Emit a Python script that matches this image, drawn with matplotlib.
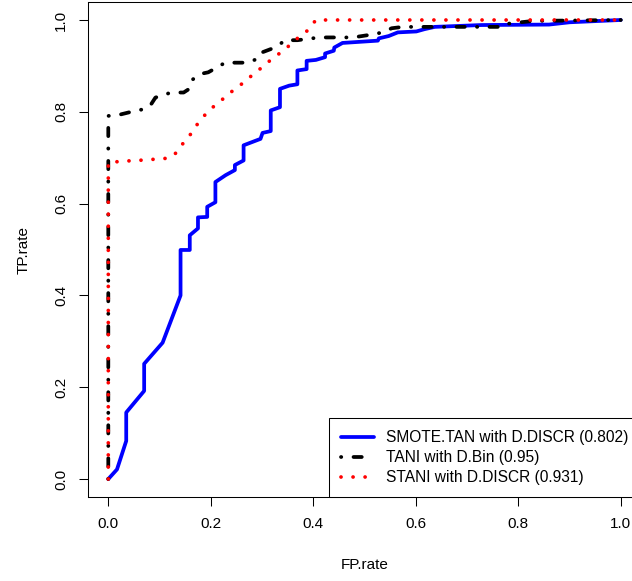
import matplotlib
matplotlib.use('Agg')
import matplotlib.pyplot as plt

plt.rcParams['font.family'] = ['Liberation Sans', 'DejaVu Sans']

# SMOTE.TAN with D.DISCR
smote_fp = [0, 0.017, 0.035, 0.035, 0.070, 0.070, 0.106, 0.141, 0.141, 0.159, 0.159,
            0.175, 0.175, 0.193, 0.193, 0.209, 0.209, 0.229, 0.247, 0.247, 0.264, 0.264,
            0.297, 0.301, 0.317, 0.317, 0.335, 0.335, 0.353, 0.369, 0.369, 0.387, 0.387,
            0.405, 0.423, 0.423, 0.440, 0.441, 0.457, 0.526, 0.528, 0.547, 0.565, 0.601,
            0.617, 0.637, 0.728, 0.860, 0.900, 1.0]
smote_tp = [0, 0.021, 0.083, 0.145, 0.192, 0.251, 0.297, 0.400, 0.499, 0.499, 0.531,
            0.546, 0.570, 0.571, 0.593, 0.603, 0.647, 0.662, 0.673, 0.684, 0.694, 0.727,
            0.741, 0.754, 0.758, 0.803, 0.810, 0.850, 0.857, 0.860, 0.890, 0.893, 0.911,
            0.913, 0.919, 0.927, 0.933, 0.940, 0.950, 0.955, 0.960, 0.965, 0.973, 0.975,
            0.980, 0.985, 0.989, 0.990, 0.995, 1.0]

# TANI with D.Bin
tani_fp = [0, 0, 0.023, 0.045, 0.066, 0.081, 0.092, 0.105, 0.123, 0.147, 0.158, 0.164,
           0.182, 0.195, 0.211, 0.228, 0.245, 0.269, 0.291, 0.299, 0.318, 0.335, 0.344,
           0.369, 0.412, 0.477, 0.495, 0.518, 0.535, 0.553, 0.575, 0.770, 0.780, 0.830, 1.0]
tani_tp = [0, 0.791, 0.794, 0.800, 0.805, 0.812, 0.831, 0.836, 0.842, 0.842, 0.850, 0.870,
           0.883, 0.886, 0.896, 0.907, 0.907, 0.907, 0.915, 0.929, 0.937, 0.947, 0.956,
           0.956, 0.962, 0.962, 0.965, 0.969, 0.973, 0.982, 0.985, 0.985, 0.992, 0.998, 1.0]

# STANI with D.DISCR
stani_fp = [0, 0, 0.023, 0.071, 0.118, 0.133, 0.147, 0.162, 0.175, 0.190, 0.207, 0.226,
            0.244, 0.262, 0.280, 0.299, 0.317, 0.335, 0.354, 0.372, 0.390, 0.405, 1.0]
stani_tp = [0, 0.689, 0.692, 0.695, 0.699, 0.711, 0.733, 0.753, 0.775, 0.795, 0.813, 0.830,
            0.847, 0.862, 0.879, 0.896, 0.913, 0.928, 0.945, 0.963, 0.978, 1.0, 1.0]

labels = ['SMOTE.TAN with D.DISCR (0.802)', 'TANI with D.Bin (0.95)',
          'STANI with D.DISCR (0.931)']


def generate_plot():
    fig = plt.figure(figsize=(6.32, 5.81), dpi=100)
    ax = fig.add_axes([0.1389, 0.1439, 0.8758, 0.8533])

    lw = 2.7
    ax.plot(smote_fp, smote_tp, color='#0000ff', lw=lw, solid_joinstyle='round',
            solid_capstyle='round', label=labels[0])
    ax.plot(tani_fp, tani_tp, color='black', lw=lw, dashes=(0.07, 3.27, 2.2, 3.27),
            dash_capstyle='round', dash_joinstyle='round', label=labels[1])
    ax.plot(stani_fp, stani_tp, color='red', lw=lw, dashes=(0.01, 3.2),
            dash_capstyle='round', dash_joinstyle='round', label=labels[2])

    ax.set_xlim(-0.04, 1.04)
    ax.set_ylim(-0.04, 1.04)
    ax.set_xticks([0, 0.2, 0.4, 0.6, 0.8, 1.0])
    ax.set_yticks([0, 0.2, 0.4, 0.6, 0.8, 1.0])
    ax.set_xticklabels(['0.0', '0.2', '0.4', '0.6', '0.8', '1.0'])
    ax.set_yticklabels(['0.0', '0.2', '0.4', '0.6', '0.8', '1.0'],
                       rotation=90, va='center')
    ax.tick_params(direction='out', length=6.7, width=0.75, labelsize=11, pad=7.5,
                   colors='black')
    for sp in ax.spines.values():
        sp.set_linewidth(0.75)
        sp.set_color('black')

    ax.set_xlabel('FP.rate', fontsize=11, va='center')
    ax.set_ylabel('TP.rate', fontsize=11, va='center')
    ax.xaxis.set_label_coords(0.5, -0.136)
    ax.yaxis.set_label_coords(-0.1153, 0.5)

    leg = ax.legend(loc='lower right', bbox_to_anchor=(1, 0), borderaxespad=0,
                    fancybox=False, fontsize=11.2, handlelength=2.1, handletextpad=0.8,
                    labelspacing=0.31, borderpad=0.8, framealpha=1)
    leg.get_frame().set_edgecolor('black')
    leg.get_frame().set_linewidth(0.75)
    return fig, ax


if __name__ == "__main__":
    fig, ax = generate_plot()
    fig.savefig('out.png', dpi=100)
